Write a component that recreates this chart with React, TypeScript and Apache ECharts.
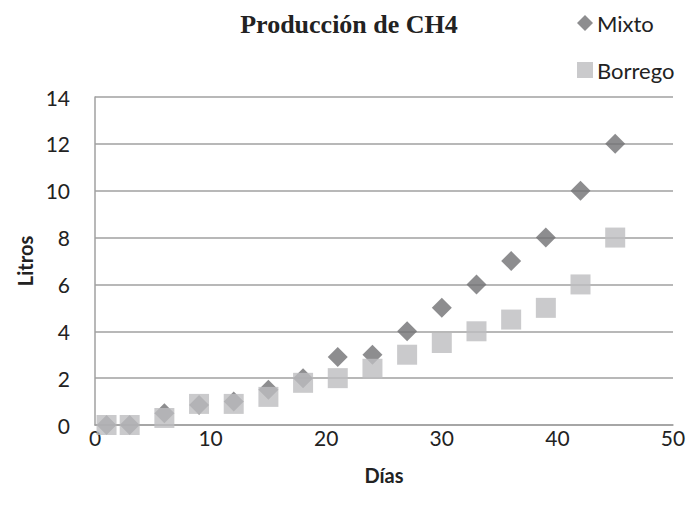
import React, { useEffect, useRef } from "react";
import * as echarts from "echarts";

const dias = [1, 3, 6, 9, 12, 15, 18, 21, 24, 27, 30, 33, 36, 39, 42, 45];
const mixto = [0, 0, 0.5, 0.85, 1, 1.5, 2, 2.9, 3, 4, 5, 6, 7, 8, 10, 12];
const borrego = [0, 0, 0.3, 0.9, 0.9, 1.2, 1.8, 2, 2.4, 3, 3.5, 4, 4.5, 5, 6, 8];
const title = "Producción de CH4";
const xName = "Días";
const yName = "Litros";

const SANS = "Lato, 'Open Sans', sans-serif";

export default function App() {
  const ref = useRef<HTMLDivElement>(null);
  useEffect(() => {
    if (!ref.current) return;
    const chart = echarts.init(ref.current, null, { renderer: "svg" });
    chart.setOption({
      animation: false,
      backgroundColor: "#ffffff",
      title: {
        text: title,
        left: 344,
        textAlign: "center",
        top: 6,
        textStyle: {
          fontFamily: "'Liberation Serif', 'Times New Roman', serif",
          fontWeight: "bold",
          fontSize: 26,
          color: "#222",
        },
      },
      legend: {
        orient: "vertical",
        left: 572,
        top: 6,
        itemWidth: 16,
        itemHeight: 16,
        itemGap: 23,
        textStyle: { fontFamily: SANS, fontSize: 22, color: "#222", lineHeight: 24, padding: [0, 0, 0, -1] },
        data: [
          { name: "Mixto", icon: "diamond" },
          { name: "Borrego", icon: "rect" },
        ],
      },
      grid: { left: 95, right: 16, top: 97, bottom: 86, containLabel: false },
      xAxis: {
        type: "value",
        min: 0,
        max: 50,
        interval: 10,
        name: xName,
        nameLocation: "middle",
        nameGap: 40,
        nameTextStyle: { fontFamily: SANS, fontSize: 20, fontWeight: "bold", color: "#222" },
        axisLine: { show: true, lineStyle: { color: "#a0a0a0", width: 1.5 } },
        axisTick: { show: false },
        splitLine: { show: false },
        axisLabel: { fontFamily: SANS, fontSize: 21, color: "#222", margin: 2 },
      },
      yAxis: {
        type: "value",
        min: 0,
        max: 14,
        interval: 2,
        name: yName,
        nameLocation: "middle",
        nameGap: 58,
        nameRotate: 90,
        nameTextStyle: { fontFamily: SANS, fontSize: 20, fontWeight: "bold", color: "#222" },
        axisLine: { show: true, lineStyle: { color: "#a0a0a0", width: 1.5 } },
        axisTick: { show: false },
        splitLine: { show: true, lineStyle: { color: "#a0a0a0", width: 1.5 } },
        axisLabel: { fontFamily: SANS, fontSize: 21, color: "#222", margin: 25 },
      },
      series: [
        {
          name: "Mixto",
          type: "scatter",
          symbol: "diamond",
          symbolSize: [20, 20],
          itemStyle: { color: "#707073" },
          data: dias.map((d, i) => [d, mixto[i]]),
        },
        {
          name: "Borrego",
          type: "scatter",
          symbol: "rect",
          symbolSize: [20, 20],
          itemStyle: { color: "#bdbdbf" },
          data: dias.map((d, i) => [d, borrego[i]]),
        },
      ],
    });
    return () => chart.dispose();
  }, []);
  return <div ref={ref} style={{ width: 689, height: 511, position: "absolute", left: 0, top: 0 }} />;
}
